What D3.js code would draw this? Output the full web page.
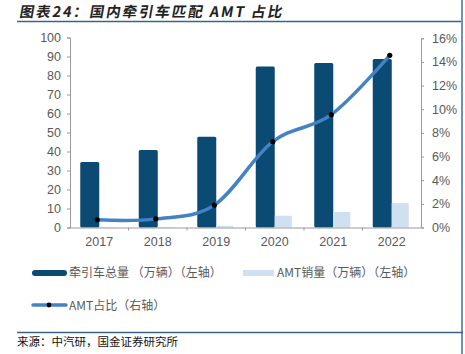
<!DOCTYPE html>
<html><head><meta charset="utf-8">
<script src="https://cdn.jsdelivr.net/npm/d3@7/dist/d3.min.js"></script>
<style>body{margin:0;background:#fff}svg{display:block}</style>
</head><body>
<script>
const years = ["2017","2018","2019","2020","2021","2022"];
const tractorTotal = [34.5, 40.8, 47.8, 84.8, 86.6, 88.7];
const amtSales = [0.22, 0.3, 0.9, 6.2, 8.2, 12.8];
const amtShare = [0.65, 0.73, 1.89, 7.26, 9.54, 14.56];
const leftTicks = [0,10,20,30,40,50,60,70,80,90,100];
const rightTicks = [0,2,4,6,8,10,12,14,16];
const title = "图表24：国内牵引车匹配 AMT 占比";
const source = "来源：中汽研，国金证券研究所";
const legendLabels = ["牵引车总量 （万辆）（左轴）","AMT销量（万辆）（左轴）","AMT占比（右轴）"];

const W=465,H=354;
const svg=d3.select("body").append("svg").attr("width",W).attr("height",H);
const x0=70, x1=421, yTop=37.5, yBot=227.5;
const x=d3.scaleBand().domain(years).range([x0,x1]);
const yL=d3.scaleLinear().domain([0,100]).range([yBot,yTop]);
const yR=d3.scaleLinear().domain([0,16]).range([yBot,yTop+0.8]);
const sub=d3.scaleBand().domain(["total","amt"]).range([-19,17]);

const dark="#0b4a73", light="#cfe0f1", lineC="#4382c4", grey="#595959", axisC="#9a9a9a";
const tickFont="Liberation Sans, Arial, sans-serif";
const cjk="'Noto Sans CJK SC', sans-serif";

// title
svg.append("text").attr("x",20).attr("y",17.5).text(title)
  .attr("font-family",cjk).attr("font-size",14.5).attr("font-weight","bold").attr("letter-spacing",1.9)
  .attr("fill","#222").attr("transform","skewX(-10) translate(2,0)");
svg.append("line").attr("x1",17).attr("x2",463).attr("y1",21.5).attr("y2",21.5).attr("stroke","#3b6484").attr("stroke-width",1.6);
svg.append("line").attr("x1",462).attr("x2",462).attr("y1",0).attr("y2",H).attr("stroke","#6f93ae").attr("stroke-width",2);

// bars
const g=svg.append("g");
g.selectAll("rect.t").data(years).join("rect").attr("class","t")
  .attr("x",d=>x(d)+x.bandwidth()/2+sub("total")).attr("width",sub.bandwidth()+1)
  .attr("y",(d,i)=>yL(tractorTotal[i])).attr("height",(d,i)=>yBot-yL(tractorTotal[i]))
  .attr("fill",dark).attr("rx",1.5);
g.selectAll("rect.a").data(years).join("rect").attr("class","a")
  .attr("x",d=>x(d)+x.bandwidth()/2+sub("amt")+1).attr("width",sub.bandwidth()-1)
  .attr("y",(d,i)=>yL(amtSales[i])).attr("height",(d,i)=>yBot-yL(amtSales[i]))
  .attr("fill",light);

// axes
const axL=svg.append("g").attr("transform",`translate(${x0},0)`).call(d3.axisLeft(yL).tickValues(leftTicks).tickSize(3).tickPadding(6));
const axR=svg.append("g").attr("transform",`translate(${x1},0)`).call(d3.axisRight(yR).tickValues(rightTicks).tickSize(3).tickPadding(8).tickFormat(d=>d+"%"));
const axB=svg.append("g").attr("transform",`translate(0,${yBot})`).call(d3.axisBottom(x).tickSize(0).tickPadding(10));
// category boundary ticks
svg.append("g").selectAll("line").data(years.slice(1)).join("line")
  .attr("x1",d=>x(d)).attr("x2",d=>x(d)).attr("y1",yBot).attr("y2",yBot+3).attr("stroke",axisC);
[axL,axR,axB].forEach(a=>{
  a.selectAll("path,line").attr("stroke",axisC);
  a.selectAll("text").attr("fill",grey).attr("font-family",tickFont).attr("font-size",12.5);
});
axB.select("path").attr("d",`M${x0},0.5H${x1}`);

// line
const pts=years.map((d,i)=>[x(d)+x.bandwidth()/2-2,yR(amtShare[i])]);
svg.append("path").attr("d",d3.line().curve(d3.curveCardinal.tension(0))(pts))
  .attr("fill","none").attr("stroke",lineC).attr("stroke-width",3.5).attr("stroke-linecap","round");
svg.selectAll("circle.p").data(pts).join("circle").attr("class","p")
  .attr("cx",d=>d[0]).attr("cy",d=>d[1]).attr("r",2.6).attr("fill","#000");

// legend
const lg=svg.append("g").attr("font-family",cjk).attr("font-size",12).attr("fill",grey);
lg.append("rect").attr("x",32).attr("y",270).attr("width",35).attr("height",6).attr("rx",3).attr("fill",dark);
lg.append("text").attr("x",69).attr("y",277).text(legendLabels[0]);
lg.append("rect").attr("x",243).attr("y",270).attr("width",31).attr("height",6).attr("fill",light);
lg.append("text").attr("x",277).attr("y",277).text(legendLabels[1]);
lg.append("line").attr("x1",33).attr("x2",66).attr("y1",305).attr("y2",305).attr("stroke",lineC).attr("stroke-width",3.5).attr("stroke-linecap","round");
lg.append("circle").attr("cx",49).attr("cy",305).attr("r",2.4).attr("fill","#000");
lg.append("text").attr("x",69).attr("y",309.5).text(legendLabels[2]);

// source
svg.append("line").attr("x1",17).attr("x2",463).attr("y1",332.5).attr("y2",332.5).attr("stroke","#3b6484").attr("stroke-width",1.6);
svg.append("text").attr("x",17).attr("y",346).text(source).attr("font-family",cjk).attr("font-size",11.5).attr("fill","#111");
</script>
</body></html>
